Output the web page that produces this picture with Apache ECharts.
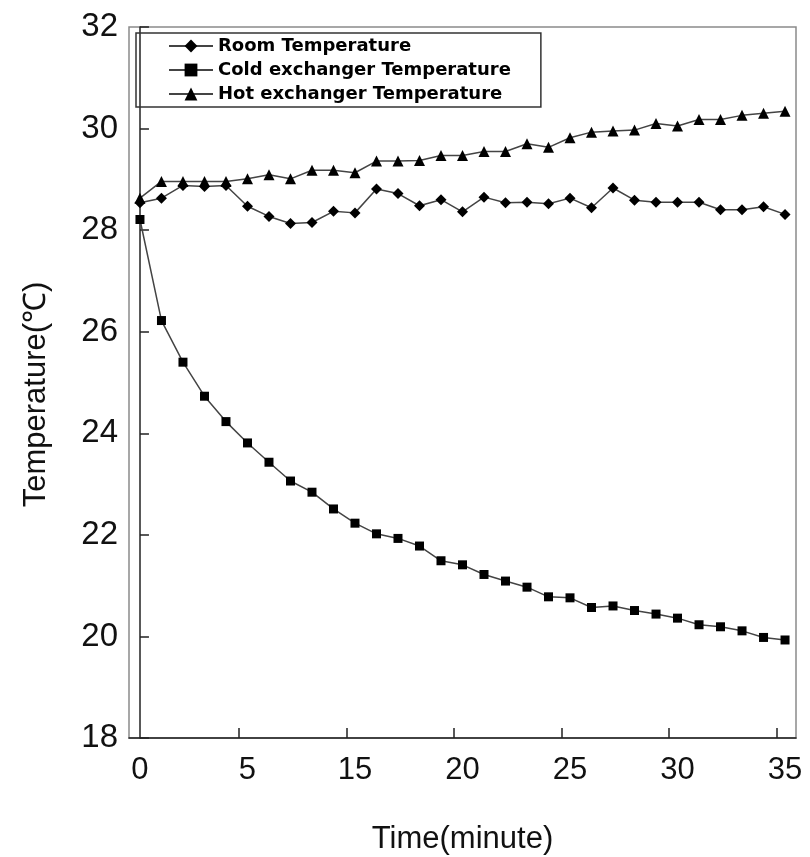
<!DOCTYPE html>
<html>
<head>
<meta charset="utf-8">
<script src="https://cdn.jsdelivr.net/npm/echarts@6/dist/echarts.min.js"></script>
<style>
html,body{margin:0;padding:0;background:#fff;}
#chart{width:810px;height:857px;}
</style>
</head>
<body>
<div id="chart"></div>
<script>
// sample index (one reading per step)
const sampleIndex = [0,1,2,3,4,5,6,7,8,9,10,11,12,13,14,15,16,17,18,19,20,21,22,23,24,25,26,27,28,29,30];
const roomTemp = [28.54,28.63,28.88,28.86,28.88,28.47,28.27,28.13,28.15,28.37,28.34,28.81,28.72,28.48,28.60,28.36,28.65,28.54,28.55,28.52,28.63,28.44,28.83,28.59,28.55,28.55,28.55,28.40,28.40,28.46,28.31];
const coldTemp = [28.21,26.22,25.40,24.73,24.23,23.81,23.43,23.06,22.84,22.51,22.23,22.02,21.93,21.78,21.49,21.41,21.22,21.09,20.97,20.78,20.76,20.57,20.60,20.51,20.44,20.36,20.23,20.19,20.11,19.98,19.93];
const hotTemp = [28.63,28.96,28.96,28.96,28.96,29.01,29.09,29.01,29.18,29.18,29.13,29.36,29.36,29.37,29.47,29.47,29.55,29.55,29.70,29.63,29.82,29.93,29.95,29.97,30.10,30.05,30.18,30.18,30.26,30.30,30.34];
const xTickLabels = ['0','5','15','20','25','30','35'];
const xLabelPositions = [0,5,10,15,20,25,30];
const xTickPositions = [4.6,9.6,14.6,19.6,24.6,29.6];
const seriesNames = ['Room Temperature','Cold exchanger Temperature','Hot exchanger Temperature'];

const chart = echarts.init(document.getElementById('chart'));
const pair = arr => arr.map((v,i)=>[sampleIndex[i], v]);
const lineStyle = {color:'#444', width:1.5};
const mk = (name, data, symbol, size) => ({
  name, type:'line', data: pair(data), symbol, symbolSize:size,
  itemStyle:{color:'#000'}, lineStyle, showSymbol:true, animation:false
});
const axisFont = 'Liberation Sans, Arial, sans-serif';

chart.setOption({
  animation:false,
  backgroundColor:'#fff',
  grid:{left:129, right:14, top:27, bottom:119, show:true, borderColor:'#8a8a8a', borderWidth:1.5,
        containLabel:false, outerBoundsMode:'none'},
  legend:{
    orient:'vertical', left:136, top:33,
    padding:[4,30,4,32], itemGap:6, itemWidth:44, itemHeight:16,
    borderColor:'#333', borderWidth:1.5,
    textStyle:{fontFamily:'DejaVu Sans', fontWeight:'bold', fontSize:18, color:'#000'},
    data: seriesNames
  },
  xAxis:{
    type:'value', min:-0.51, max:30.51,
    name:'Time(minute)', nameLocation:'middle', nameGap:86,
    nameTextStyle:{fontFamily:axisFont, fontSize:31, color:'#111'},
    axisLine:{lineStyle:{color:'#222', width:1.5}},
    axisTick:{inside:true, length:10, customValues:xTickPositions, lineStyle:{color:'#222', width:1.5}},
    axisLabel:{customValues:xLabelPositions, margin:17,
      fontFamily:axisFont, fontSize:31, color:'#111',
      formatter: v => { const i = xLabelPositions.indexOf(Math.round(v)); return i>=0 ? xTickLabels[i] : ''; }},
    splitLine:{show:false}
  },
  yAxis:{
    type:'value', min:18, max:32, interval:2,
    name:'Temperature(℃)', nameLocation:'middle', nameGap:77, nameRotate:90,
    nameTextStyle:{fontFamily:axisFont, fontSize:31, color:'#111', padding:[0,24,0,0]},
    axisLine:{show:true, lineStyle:{color:'#222', width:1.5}},
    axisTick:{show:true, inside:true, length:9, lineStyle:{color:'#222', width:1.5}},
    axisLabel:{margin:11, fontFamily:axisFont, fontSize:33, color:'#111'},
    splitLine:{show:false}
  },
  series:[
    mk(seriesNames[0], roomTemp, 'diamond', 11),
    mk(seriesNames[1], coldTemp, 'rect', 9),
    mk(seriesNames[2], hotTemp, 'triangle', 11)
  ]
});
</script>
</body>
</html>
